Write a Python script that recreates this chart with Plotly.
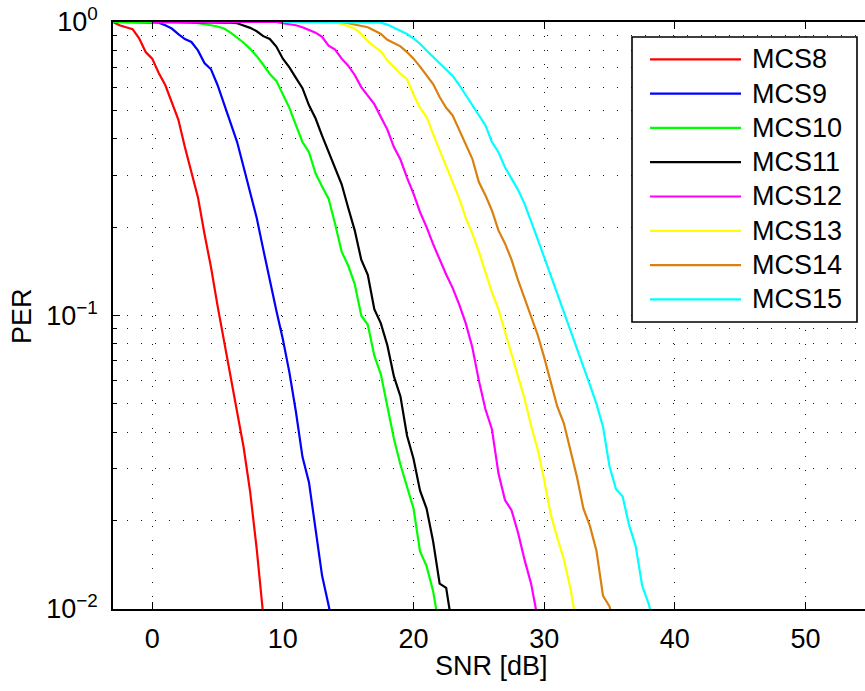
import plotly.graph_objects as go

# SNR sweep step (dB) shared by all simulated curves
SNR_STEP = 0.5

# Packet error rate per MCS, one value per SNR point starting at *_start
mcs8_start = -3.0
mcs8_per = [1.0, 0.975, 0.96, 0.945, 0.88, 0.79, 0.75, 0.67, 0.61, 0.535, 0.465, 0.375,
            0.305, 0.253, 0.19, 0.146, 0.108, 0.082, 0.062, 0.046, 0.0355, 0.025, 0.016, 0.0095]

mcs9_start = -3.0
mcs9_per = [1.0, 1.0, 1.0, 1.0, 1.0, 1.0,
            1.0, 0.995, 0.975, 0.95, 0.91, 0.875, 0.855, 0.80, 0.725, 0.69, 0.61, 0.525,
            0.455, 0.39, 0.32, 0.262, 0.215, 0.168, 0.131, 0.104, 0.083, 0.064, 0.047, 0.033,
            0.027, 0.019, 0.013, 0.0103, 0.008]

mcs10_start = -3.0
mcs10_per = [1.0, 1.0, 1.0, 1.0, 1.0, 1.0, 1.0, 1.0, 1.0, 1.0, 1.0, 1.0,
             0.995, 0.99, 0.985, 0.975, 0.965, 0.95, 0.92, 0.885, 0.85, 0.81, 0.765, 0.715,
             0.665, 0.63, 0.565, 0.51, 0.445, 0.39, 0.36, 0.305, 0.275, 0.25, 0.205, 0.165,
             0.148, 0.128, 0.1, 0.093, 0.073, 0.063, 0.049, 0.038, 0.031, 0.026, 0.022, 0.0157,
             0.014, 0.0115, 0.0085]

mcs11_start = 0.0
mcs11_per = [1.0, 1.0, 1.0, 1.0, 1.0, 1.0, 1.0, 1.0, 1.0, 1.0, 1.0, 1.0,
             0.995, 0.99, 0.975, 0.955, 0.93, 0.895, 0.875, 0.825, 0.75, 0.70, 0.645, 0.595,
             0.52, 0.47, 0.41, 0.36, 0.318, 0.28, 0.233, 0.195, 0.155, 0.1375, 0.105, 0.094,
             0.079, 0.062, 0.053, 0.039, 0.0325, 0.0253, 0.022, 0.017, 0.0122, 0.0118, 0.0085]

mcs12_start = 0.0
mcs12_per = [1.0, 1.0, 1.0, 1.0, 1.0, 1.0, 1.0, 1.0, 1.0, 1.0,
             1.0, 1.0, 1.0, 1.0, 1.0, 1.0, 1.0, 1.0, 1.0, 1.0,
             0.99, 0.985, 0.975, 0.96, 0.94, 0.92, 0.89, 0.83, 0.805, 0.75,
             0.71, 0.66, 0.60, 0.56, 0.525, 0.475, 0.43, 0.375, 0.34, 0.295,
             0.26, 0.225, 0.2, 0.175, 0.155, 0.138, 0.124, 0.109, 0.094, 0.078,
             0.06, 0.048, 0.041, 0.029, 0.0235, 0.0217, 0.0182, 0.0147, 0.0122, 0.0093]

mcs13_start = 10.0
mcs13_per = [1.0, 1.0, 1.0, 1.0, 1.0, 1.0, 1.0, 1.0,
             0.995, 0.985, 0.97, 0.95, 0.91, 0.86, 0.825, 0.795, 0.74, 0.70,
             0.665, 0.64, 0.565, 0.51, 0.475, 0.415, 0.365, 0.325, 0.285, 0.25,
             0.215, 0.19, 0.165, 0.14, 0.12, 0.105, 0.088, 0.075, 0.062, 0.052,
             0.042, 0.035, 0.0275, 0.021, 0.0175, 0.0148, 0.0118, 0.0088]

mcs14_start = 10.0
mcs14_per = [1.0, 1.0, 1.0, 1.0, 1.0, 1.0, 1.0, 1.0, 1.0, 1.0,
             0.99, 0.98, 0.97, 0.96, 0.935, 0.91, 0.87, 0.845, 0.826, 0.79,
             0.75, 0.705, 0.66, 0.615, 0.555, 0.51, 0.48, 0.43, 0.38, 0.342,
             0.285, 0.257, 0.228, 0.195, 0.176, 0.155, 0.132, 0.114, 0.1, 0.086,
             0.072, 0.06, 0.049, 0.043, 0.0345, 0.0283, 0.022, 0.0192, 0.0158, 0.0111,
             0.0102, 0.0085]

mcs15_start = 10.0
mcs15_per = [1.0, 1.0, 1.0, 1.0, 1.0, 1.0, 1.0, 1.0, 1.0, 1.0, 1.0, 1.0, 1.0, 1.0, 1.0,
             0.995, 0.98, 0.955, 0.935, 0.91, 0.88, 0.843, 0.80, 0.76, 0.722,
             0.69, 0.655, 0.61, 0.565, 0.52, 0.482, 0.445, 0.39, 0.36, 0.32,
             0.292, 0.268, 0.24, 0.21, 0.182, 0.158, 0.137, 0.12, 0.104, 0.09,
             0.078, 0.068, 0.058, 0.05, 0.0418, 0.0306, 0.0256, 0.0242, 0.0193, 0.0164,
             0.012, 0.0104, 0.0085]

series_names = ["MCS8", "MCS9", "MCS10", "MCS11", "MCS12", "MCS13", "MCS14", "MCS15"]
series_starts = [mcs8_start, mcs9_start, mcs10_start, mcs11_start,
                 mcs12_start, mcs13_start, mcs14_start, mcs15_start]
series_per = [mcs8_per, mcs9_per, mcs10_per, mcs11_per,
              mcs12_per, mcs13_per, mcs14_per, mcs15_per]
series_colors = ["#ff0000", "#0000ff", "#00ff00", "#000000",
                 "#ff00ff", "#ffff00", "#d9800f", "#00ffff"]

x_ticks = [0, 10, 20, 30, 40, 50]
y_ticks = [0.01, 0.1, 1]
y_tick_text = ["10<sup>\u22122</sup>", "10<sup>\u22121</sup>", "10<sup>0</sup>"]
y_minor = [m * d for d in (0.01, 0.1) for m in range(2, 10)]

FONT = "Liberation Sans, Arial, Helvetica, sans-serif"
FONT_SIZE = 27
GRID_DASH = "1px,13px"
GRID_COLOR = "#111111"
LINE_W = 2.2

# Figure and plot-area geometry (pixels)
FIG_W, FIG_H = 865, 691
M_L, M_R, M_T, M_B = 113, 0, 22, 82
PLOT_W = FIG_W - M_L - M_R
PLOT_H = FIG_H - M_T - M_B


def paper_x(px):
    return (px - M_L) / PLOT_W


def paper_y(py):
    return (FIG_H - M_B - py) / PLOT_H


fig = go.Figure()
for name, start, per, color in zip(series_names, series_starts, series_per, series_colors):
    snr = [start + i * SNR_STEP for i in range(len(per))]
    fig.add_trace(go.Scatter(x=snr, y=per, mode="lines", name=name, showlegend=False,
                             line=dict(color=color, width=LINE_W)))

# Boxed legend in the upper right corner of the axes
LEG_LEFT, LEG_RIGHT, LEG_TOP, LEG_BOTTOM = 632, 857, 37, 322
LEG_LINE_X0, LEG_LINE_X1, LEG_TEXT_X = 650, 741, 750
LEG_ROW0, LEG_ROW_GAP = 59.3, 34.3

shapes = [dict(type="rect", xref="paper", yref="paper",
               x0=paper_x(LEG_LEFT), x1=paper_x(LEG_RIGHT),
               y0=paper_y(LEG_BOTTOM), y1=paper_y(LEG_TOP),
               fillcolor="white", line=dict(color="black", width=1.6), layer="above")]
annotations = []
for i, (name, color) in enumerate(zip(series_names, series_colors)):
    row_y = paper_y(LEG_ROW0 + i * LEG_ROW_GAP)
    shapes.append(dict(type="line", xref="paper", yref="paper",
                       x0=paper_x(LEG_LINE_X0), x1=paper_x(LEG_LINE_X1),
                       y0=row_y, y1=row_y, layer="above",
                       line=dict(color=color, width=LINE_W)))
    annotations.append(dict(text=name, xref="paper", yref="paper",
                            x=paper_x(LEG_TEXT_X), y=row_y,
                            xanchor="left", yanchor="middle", showarrow=False,
                            font=dict(family=FONT, size=FONT_SIZE, color="black")))

annotations += [
    dict(text="SNR [dB]", xref="x", yref="paper", x=26, y=paper_y(666),
         xanchor="center", yanchor="middle", showarrow=False,
         font=dict(family=FONT, size=FONT_SIZE)),
    dict(text="PER", xref="paper", yref="paper", x=paper_x(22), y=paper_y(316),
         xanchor="center", yanchor="middle", textangle=-90, showarrow=False,
         font=dict(family=FONT, size=FONT_SIZE)),
]

fig.update_layout(
    width=FIG_W, height=FIG_H,
    margin=dict(l=M_L, r=M_R, t=M_T, b=M_B),
    paper_bgcolor="white", plot_bgcolor="white",
    font=dict(family=FONT, size=FONT_SIZE, color="black"),
    showlegend=False,
    xaxis=dict(range=[-3, -3 + PLOT_W / 13.066], tickmode="array", tickvals=x_ticks,
               ticks="inside", ticklen=7, tickwidth=1, tickcolor="black",
               showline=True, linecolor="black", linewidth=1.6, mirror="ticks",
               showgrid=True, gridcolor=GRID_COLOR, gridwidth=1, griddash=GRID_DASH,
               zeroline=False, ticklabelstandoff=5,
               tickfont=dict(family=FONT, size=FONT_SIZE)),
    yaxis=dict(type="log", range=[-2, 0], tickmode="array", tickvals=y_ticks,
               ticktext=y_tick_text, ticks="inside", ticklen=7, tickwidth=1,
               tickcolor="black", showline=True, linecolor="black", linewidth=1.6,
               mirror=False, showgrid=True, gridcolor=GRID_COLOR, gridwidth=1,
               griddash=GRID_DASH, zeroline=False, ticklabelstandoff=8,
               tickfont=dict(family=FONT, size=FONT_SIZE),
               minor=dict(tickmode="array", tickvals=y_minor, ticks="inside",
                          ticklen=4, tickcolor="black", showgrid=True,
                          gridcolor=GRID_COLOR, gridwidth=1, griddash=GRID_DASH)),
    shapes=shapes,
    annotations=annotations,
)

fig.write_html("out.html")
